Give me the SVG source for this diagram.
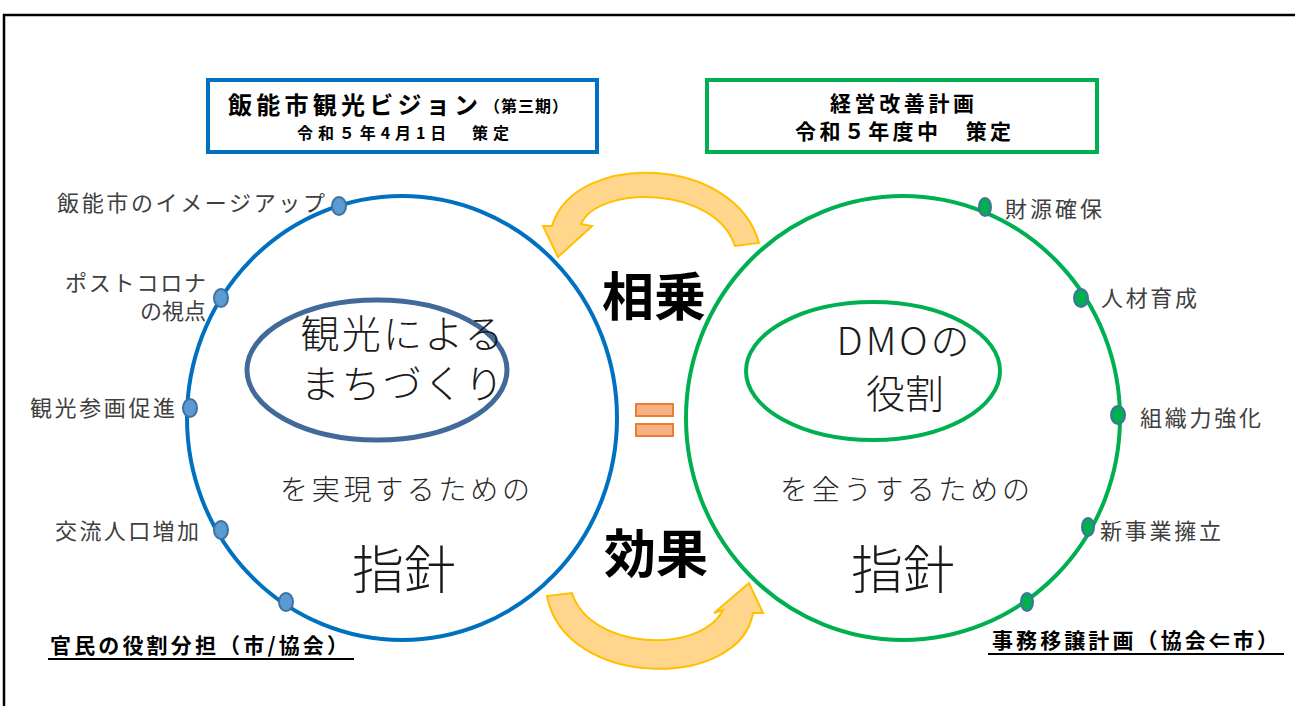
<svg xmlns="http://www.w3.org/2000/svg" width="1295" height="706" viewBox="0 0 1295 706">
<style>
text{font-family:"Noto Sans CJK JP","Noto Sans",sans-serif;}
.lbl{font-size:22px;fill:#404040;font-weight:400;}
.big{font-size:39px;fill:#1a1a1a;font-weight:300;}
.mid{font-size:28px;fill:#262626;font-weight:300;}
.shin{font-size:52px;fill:#1a1a1a;font-weight:300;}
.bold{font-size:52px;fill:#000;font-weight:700;}
.ttl{fill:#000;font-weight:700;}
.ul{font-size:21px;fill:#000;font-weight:700;}
.bdot{fill:#5B9BD5;stroke:#41719C;stroke-width:2;}
.gdot{fill:#00B050;stroke:#41719C;stroke-width:2;}
.arr{fill:#FFD68C;stroke:#FFC000;stroke-width:2;}
.eq{fill:#F4B183;stroke:#ED7D31;stroke-width:2;}
</style>
<rect width="1295" height="706" fill="#fff"/>
<path d="M4,706 V15 H1295" fill="none" stroke="#000" stroke-width="2.5"/>

<g id="title-left">
<rect x="208" y="80" width="389" height="72" fill="#fff" stroke="#0070C0" stroke-width="4"/>
<text x="228" y="114" class="ttl" font-size="24" textLength="250" lengthAdjust="spacing">飯能市観光ビジョン</text>
<text x="484" y="112" class="ttl" font-size="16" textLength="84">（第三期）</text>
<text x="297" y="139" class="ttl" font-size="16" textLength="212" lengthAdjust="spacing">令和５年4月1日　策定</text>
</g>
<g id="title-right">
<rect x="707" y="80" width="390" height="72" fill="#fff" stroke="#00B050" stroke-width="4"/>
<text x="902" y="111" class="ttl" font-size="21" font-weight="900" text-anchor="middle" textLength="144" lengthAdjust="spacing">経営改善計画</text>
<text x="903" y="139" class="ttl" font-size="21" font-weight="900" text-anchor="middle" textLength="216" lengthAdjust="spacing">令和５年度中　策定</text>
</g>

<g id="connectors">
<path class="arr" d="M759,243 C735,155 575,150 552,226 L543,226 L558,257 L592,226 L581,224 C598,185 715,185 735,246 Z"/>
<path class="arr" d="M547,596 C565,690 740,690 753,613 L763,613 L749,583 L714,613 L723,610 C700,655 590,650 572,593 Z"/>
</g>

<g id="circle-left">
<ellipse cx="402" cy="418" rx="215" ry="222" fill="none" stroke="#0070C0" stroke-width="4"/>
<ellipse cx="377" cy="370" rx="130" ry="70" fill="none" stroke="#41699A" stroke-width="5"/>
<text class="big" text-anchor="middle"><tspan x="402" y="348" textLength="203">観光による</tspan><tspan x="402" y="398" textLength="203">まちづくり</tspan></text>
<text x="405" y="500" class="mid" text-anchor="middle" textLength="250">を実現するための</text>
<text x="404" y="589" class="shin" text-anchor="middle">指針</text>
</g>
<g id="circle-right">
<ellipse cx="903" cy="418" rx="217" ry="222" fill="none" stroke="#00B050" stroke-width="4"/>
<ellipse cx="873" cy="371" rx="127" ry="69" fill="none" stroke="#00B050" stroke-width="4"/>
<text class="big" text-anchor="middle"><tspan x="903" y="355" textLength="133">DMOの</tspan><tspan x="905" y="408">役割</tspan></text>
<text x="905" y="500" class="mid" text-anchor="middle" textLength="250">を全うするための</text>
<text x="903" y="589" class="shin" text-anchor="middle">指針</text>
</g>

<g id="center">
<text x="654" y="316" class="bold" text-anchor="middle">相乗</text>
<text x="656" y="573" class="bold" text-anchor="middle">効果</text>
<rect class="eq" x="636" y="404" width="37" height="12"/>
<rect class="eq" x="636" y="424" width="37" height="12"/>
</g>

<g id="points-left">
<ellipse class="bdot" cx="339" cy="206" rx="7" ry="9"/>
<ellipse class="bdot" cx="221" cy="298" rx="7" ry="9"/>
<ellipse class="bdot" cx="190" cy="408" rx="7" ry="9"/>
<ellipse class="bdot" cx="221" cy="530" rx="7" ry="9"/>
<ellipse class="bdot" cx="286" cy="602" rx="7" ry="9"/>
<text x="325" y="211" class="lbl" text-anchor="end" textLength="268" lengthAdjust="spacing">飯能市のイメージアップ</text>
<text class="lbl" text-anchor="end"><tspan x="206" y="291" textLength="141" lengthAdjust="spacing">ポストコロナ</tspan><tspan x="206" y="319" textLength="66" lengthAdjust="spacing">の視点</tspan></text>
<text x="30" y="416" class="lbl" textLength="145" lengthAdjust="spacing">観光参画促進</text>
<text x="55" y="539" class="lbl" textLength="144" lengthAdjust="spacing">交流人口増加</text>
</g>
<g id="points-right">
<ellipse class="gdot" cx="985" cy="207" rx="6" ry="9"/>
<ellipse class="gdot" cx="1081" cy="298" rx="7" ry="9"/>
<ellipse class="gdot" cx="1118" cy="415" rx="7" ry="9"/>
<ellipse class="gdot" cx="1088" cy="527" rx="6" ry="9"/>
<ellipse class="gdot" cx="1027" cy="602" rx="6" ry="9"/>
<text x="1005" y="217" class="lbl" textLength="97" lengthAdjust="spacing">財源確保</text>
<text x="1101" y="306" class="lbl" textLength="96" lengthAdjust="spacing">人材育成</text>
<text x="1140" y="426" class="lbl" textLength="121" lengthAdjust="spacing">組織力強化</text>
<text x="1100" y="539" class="lbl" textLength="121" lengthAdjust="spacing">新事業擁立</text>
</g>

<g id="note-left">
<text x="50" y="653" class="ul" textLength="298" lengthAdjust="spacing">官民の役割分担（市/協会）</text>
<line x1="48" y1="659" x2="354" y2="659" stroke="#000" stroke-width="2"/>
</g>
<g id="note-right">
<text x="992" y="648" class="ul" textLength="286" lengthAdjust="spacing">事務移譲計画（協会⇐市）</text>
<line x1="988" y1="654" x2="1284" y2="654" stroke="#000" stroke-width="2"/>
</g>
</svg>
